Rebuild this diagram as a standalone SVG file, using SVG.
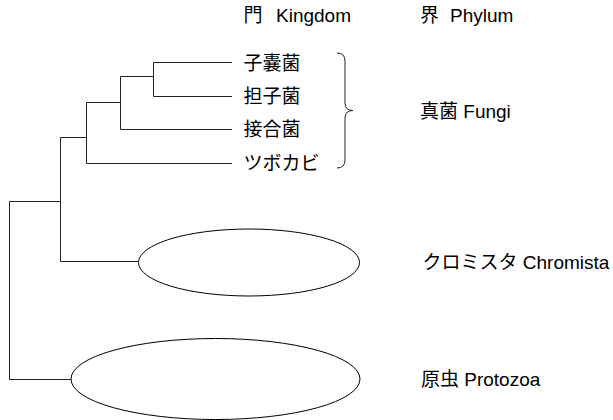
<svg xmlns="http://www.w3.org/2000/svg" width="613" height="420" viewBox="0 0 613 420">
<style>
  text { font-family: "Liberation Sans", "Noto Sans CJK JP", sans-serif; font-size: 19px; fill: #000; }
  .ln { fill: none; stroke: #222; stroke-width: 1; }
  .el { fill: #fff; stroke: #000; stroke-width: 1; }
</style>
<rect width="613" height="420" fill="#fff"/>
<g id="headers">
  <text x="243.5" y="22">門</text>
  <text x="276" y="22">Kingdom</text>
  <text x="420" y="22">界</text>
  <text x="450" y="22">Phylum</text>
</g>
<g id="connectors">
  <path class="ln" d="M9.5,201.5 V379.5 M9.5,201.5 H60.5 M9.5,379.5 H71"/>
  <path class="ln" d="M60.5,137.5 V261.5 M60.5,137.5 H86.5 M60.5,261.5 H138.5"/>
  <path class="ln" d="M86.5,102.5 V163.5 M86.5,102.5 H120.5 M86.5,163.5 H232"/>
  <path class="ln" d="M120.5,76.5 V129.5 M120.5,76.5 H153.5 M120.5,129.5 H232"/>
  <path class="ln" d="M153.5,62.5 V96.5 M153.5,62.5 H232 M153.5,96.5 H232"/>
</g>
<g id="node-ascomycota"><text x="243.5" y="69.5">子嚢菌</text></g>
<g id="node-basidiomycota"><text x="243.5" y="103">担子菌</text></g>
<g id="node-zygomycota"><text x="243.5" y="136">接合菌</text></g>
<g id="node-chytrid"><text x="243.5" y="170">ツボカビ</text></g>
<g id="brace-fungi">
  <path class="ln" d="M337,53 Q345,53 345,61 V103 Q345,110.5 353,110.5 Q345,110.5 345,118 V160 Q345,168 337,168"/>
  <text x="420" y="118">真菌 Fungi</text>
</g>
<g id="node-chromista">
  <ellipse class="el" cx="249" cy="262.5" rx="110.5" ry="33.5"/>
  <text x="422.5" y="268.5">クロミスタ Chromista</text>
</g>
<g id="node-protozoa">
  <ellipse class="el" cx="215.5" cy="379" rx="144.5" ry="40.5"/>
  <text x="421" y="386">原虫 Protozoa</text>
</g>
</svg>
